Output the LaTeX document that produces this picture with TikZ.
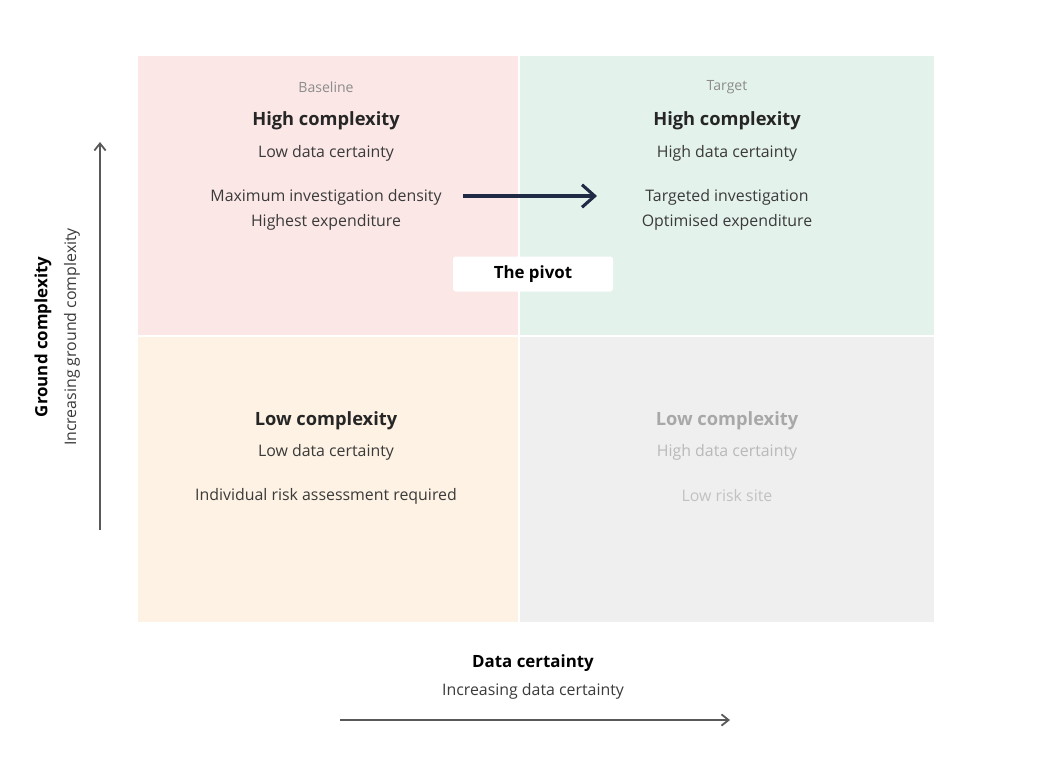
\documentclass[tikz,border=0pt]{standalone}
\usepackage{fontspec}
\setmainfont{Open Sans}
\usetikzlibrary{positioning,arrows.meta}
\definecolor{pinkq}{HTML}{FBE7E6}
\definecolor{greenq}{HTML}{E4F2EC}
\definecolor{yellowq}{HTML}{FDF2E3}
\definecolor{greyq}{HTML}{EFEFEF}
\definecolor{navy}{HTML}{1F2A44}
\definecolor{txt}{HTML}{3A3A3A}
\definecolor{faint}{HTML}{A8A8A8}
\tikzset{
  head/.style={font=\bfseries\fontsize{13}{15}\selectfont, text=black!85},
  sub/.style={font=\fontsize{11.3}{18}\selectfont, text=txt},
  tag/.style={font=\fontsize{10}{12}\selectfont, text=black!45},
  axis/.style={draw=black!65, line width=1.3pt, -{Straight Barb[length=5pt,width=8pt]}}
}
\begin{document}
\begin{tikzpicture}[x=0.025cm, y=-0.025cm]
    \useasboundingbox (0,0) rectangle (1048,758);
    % quadrants
    \fill[pinkq] (138,56) rectangle (519,336);
    \fill[greenq] (519,56) rectangle (934,336);
    \fill[yellowq] (138,336) rectangle (519,622);
    \fill[greyq] (519,336) rectangle (934,622);
    \draw[white, line width=1pt] (519,56) -- (519,622) (138,336) -- (934,336);

    % baseline
    \node (basetag) [tag] at (326,87) {Baseline};
    \node (basehead) [head] at (326,121) {High complexity};
    \node (basesub) [sub] at (326,153) {Low data certainty};
    \node (basetxt) [sub, align=center] at (326,210) {Maximum investigation density\\Highest expenditure};

    % target
    \node (targettag) [tag] at (727,87) {Target};
    \node (targethead) [head] at (727,121) {High complexity};
    \node (targetsub) [sub] at (727,153) {High data certainty};
    \node (targettxt) [sub, align=center] at (727,210) {Targeted investigation\\Optimised expenditure};

    % low complexity
    \node (lowhead) [head] at (326,421) {Low complexity};
    \node (lowsub) [sub] at (326,452) {Low data certainty};
    \node (lowtxt) [sub] at (326,496) {Individual risk assessment required};

    \node (sitehead) [head, text=faint] at (727,421) {Low complexity};
    \node (sitesub) [sub, text=faint!80] at (727,452) {High data certainty};
    \node (sitetxt) [sub, text=faint!70] at (727,496) {Low risk site};

    % pivot
    \node (pivot) [fill=white, rounded corners=2pt, minimum width=160*0.025cm, minimum height=35*0.025cm,
        font=\bfseries\fontsize{12}{14}\selectfont] at (533,274) {The pivot};
    \coordinate (pstart) at (463,196);
    \coordinate (pend) at (597,196);
    \draw[navy, line width=2.2pt, -{Straight Barb[length=9pt,width=16pt]}] (pstart) -- (pend);

    % axes
    \coordinate (ybot) at (100,530);
    \coordinate (ytop) at (100,142);
    \draw[axis] (ybot) -- (ytop);
    \node (ylab) [rotate=90, font=\bfseries\fontsize{12}{14}\selectfont] at (43,337) {Ground complexity};
    \node (ysub) [rotate=90, sub] at (72,337) {Increasing ground complexity};
    \node (xlab) [font=\bfseries\fontsize{12}{14}\selectfont] at (533,663) {Data certainty};
    \node (xsub) [sub] at (533,691) {Increasing data certainty};
    \coordinate (xl) at (340,720);
    \coordinate (xr) at (730,720);
    \draw[axis] (xl) -- (xr);
\end{tikzpicture}
\end{document}
